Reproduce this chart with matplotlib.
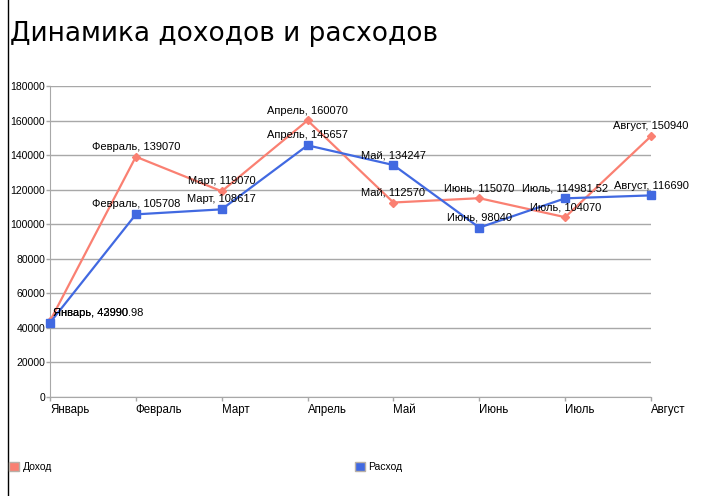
import matplotlib
matplotlib.use("Agg")
import matplotlib.pyplot as plt
from matplotlib.lines import Line2D
from matplotlib.patches import Patch
import matplotlib.transforms as mtransforms

months = ["Январь", "Февраль", "Март", "Апрель", "Май", "Июнь", "Июль", "Август"]
income = [43990, 139070, 119070, 160070, 112570, 115070, 104070, 150940]
expense = [42990.98, 105708, 108617, 145657, 134247, 98040, 114981.52, 116690]
income_labels = ["43990", "139070", "119070", "160070", "112570", "115070", "104070", "150940"]
expense_labels = ["42990.98", "105708", "108617", "145657", "134247", "98040", "114981.52", "116690"]
yticks = list(range(0, 180001, 20000))

RED = "#FA8072"
BLUE = "#4169E1"
SMALL = ["Liberation Sans", "DejaVu Sans"]

fig = plt.figure(figsize=(7.18, 4.96), dpi=100)
W, H = 718, 496
ax = fig.add_axes([50 / W, 99 / H, 601 / W, 311 / H])

x = list(range(len(months)))
ax.plot(x, income, color=RED, lw=1.6, marker="D", ms=4.5, mec=RED, mfc=RED, clip_on=False, zorder=3)
ax.plot(x, expense, color=BLUE, lw=1.6, marker="s", ms=6, mec=BLUE, mfc=BLUE, clip_on=False, zorder=4)

ax.set_xlim(0, len(months) - 1)
ax.set_ylim(0, 180000)
ax.set_yticks(yticks)
ax.set_yticklabels([str(v) for v in yticks], fontsize=7.5, family=SMALL)
ax.set_xticks(x)
ax.set_xticklabels(months, fontsize=8.3, family=SMALL, ha="left")
offset = mtransforms.ScaledTranslation(3 / 100, 0, fig.dpi_scale_trans)
for lab in ax.get_xticklabels():
    lab.set_transform(lab.get_transform() + offset)

ax.grid(axis="y", color="#a8a8a8", lw=1)
ax.set_axisbelow(True)
for s in ["top", "right"]:
    ax.spines[s].set_visible(False)
for s in ["left", "bottom"]:
    ax.spines[s].set_color("#a8a8a8")
ax.tick_params(axis="y", colors="#a8a8a8", length=3, width=1, labelcolor="black", pad=0.5)
ax.tick_params(axis="x", colors="#a8a8a8", length=3, width=1, labelcolor="black", pad=2)

for i, m in enumerate(months):
    if i == 0:
        # both January labels sit at the same spot (they overlap in the original)
        ax.annotate(f"{m}, {income_labels[i]}", (i, expense[i]), xytext=(2, 3.5), textcoords="offset points",
                    ha="left", va="bottom", fontsize=8, family=SMALL, annotation_clip=False, zorder=5)
        ax.annotate(f"{m}, {expense_labels[i]}", (i, expense[i]), xytext=(2, 3.5), textcoords="offset points",
                    ha="left", va="bottom", fontsize=8, family=SMALL, annotation_clip=False, zorder=5)
        continue
    ax.annotate(f"{m}, {income_labels[i]}", (i, income[i]), xytext=(0, 3.5), textcoords="offset points",
                ha="center", va="bottom", fontsize=8, family=SMALL, annotation_clip=False, zorder=5)
    ax.annotate(f"{m}, {expense_labels[i]}", (i, expense[i]), xytext=(0, 3.5), textcoords="offset points",
                ha="center", va="bottom", fontsize=8, family=SMALL, annotation_clip=False, zorder=5)

fig.text(10 / W, 1 - 34 / H, "Динамика доходов и расходов", fontsize=19, family="DejaVu Sans",
         ha="left", va="center")

fig.add_artist(Line2D([7.5 / W, 7.5 / W], [0, 1], color="black", lw=1))

h1 = Patch(facecolor=RED, edgecolor="#b8b0a8", lw=1)
h2 = Patch(facecolor=BLUE, edgecolor="#b8b0a8", lw=1)
fig.legend([h1], ["Доход"], loc="center left", bbox_to_anchor=(9 / W, 1 - 467 / H), frameon=False,
           handlelength=1.0, handleheight=1.0, handletextpad=0.3, borderaxespad=0, borderpad=0,
           prop={"family": SMALL, "size": 7.5})
fig.legend([h2], ["Расход"], loc="center left", bbox_to_anchor=(355 / W, 1 - 467 / H), frameon=False,
           handlelength=1.0, handleheight=1.0, handletextpad=0.3, borderaxespad=0, borderpad=0,
           prop={"family": SMALL, "size": 7.5})

fig.savefig("out.png", dpi=100)
